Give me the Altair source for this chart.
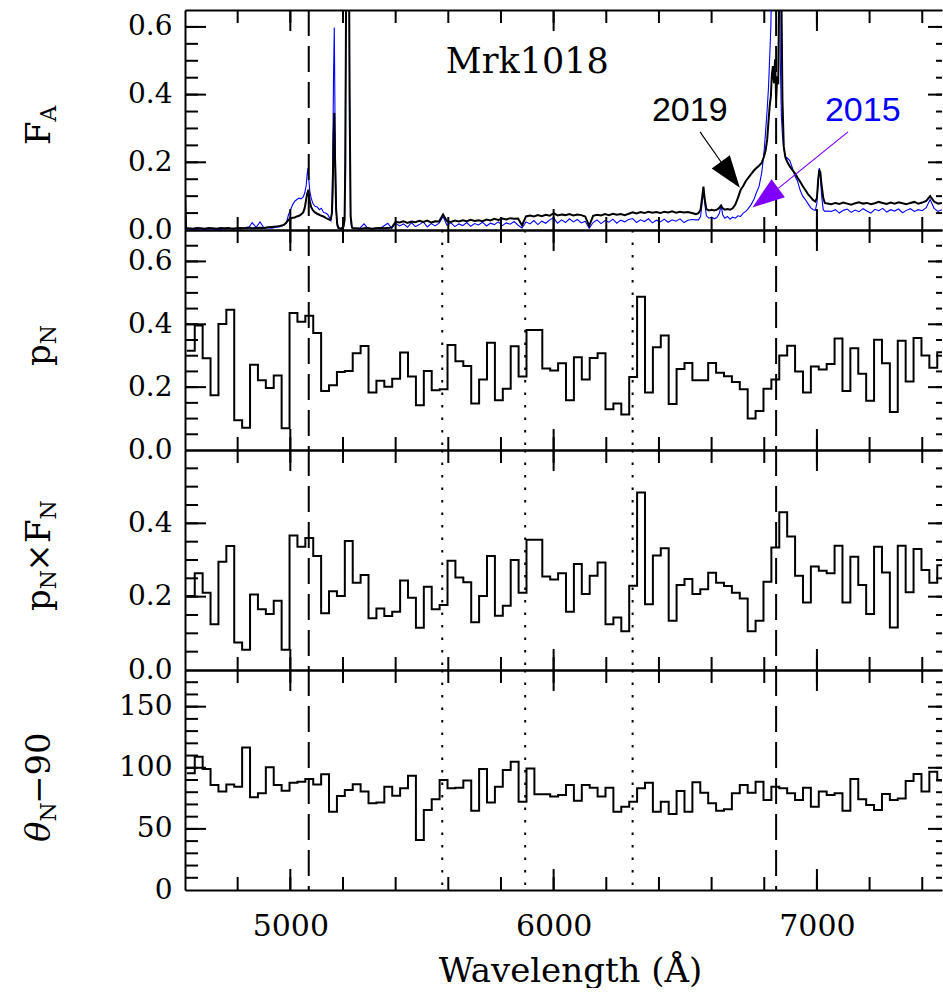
import altair as alt
import pandas as pd

# ---------------------------------------------------------------------------
# Panel 1: total flux spectra of Mrk 1018 at two epochs
# ---------------------------------------------------------------------------
wave = [
    4600, 4604, 4615, 4630, 4645, 4660, 4675, 4690, 4705, 4720, 4735, 4750, 4765, 4780,
    4795, 4810, 4825, 4840, 4855, 4870, 4885, 4900, 4915, 4930, 4945, 4960, 4975,
    4985, 4993, 5001, 5009, 5017, 5025, 5033, 5041, 5049, 5055, 5060, 5064, 5067, 5070,
    5074, 5079, 5086, 5094, 5102, 5110, 5118, 5126, 5134, 5142, 5150,
    5154, 5158, 5161, 5164, 5167, 5170, 5174, 5178, 5183, 5190, 5197, 5202, 5206, 5209,
    5213, 5217, 5221, 5225, 5229, 5234, 5240,
    5250, 5265, 5280, 5295, 5310, 5325, 5340, 5355, 5370, 5385,
    5400, 5415, 5430, 5445, 5460, 5475, 5490, 5505, 5520, 5535,
    5550, 5565, 5580, 5595, 5610, 5625, 5640, 5655, 5670, 5685,
    5700, 5715, 5730, 5745, 5760, 5775, 5790, 5805, 5820, 5835,
    5850, 5865, 5880, 5895, 5910, 5925, 5940, 5955, 5970, 5985,
    6000, 6015, 6030, 6045, 6060, 6075, 6090, 6105, 6120, 6135,
    6150, 6165, 6180, 6195, 6210, 6225, 6240, 6255, 6270, 6285,
    6300, 6315, 6330, 6345, 6360, 6375, 6390, 6405, 6420, 6435,
    6450, 6465, 6480, 6495, 6510, 6525, 6540,
    6550, 6558, 6564, 6569, 6574, 6580, 6590, 6600, 6610, 6620,
    6630, 6636, 6642, 6650, 6660, 6670, 6680, 6690, 6700, 6710,
    6720, 6730, 6740, 6750, 6760, 6770, 6780, 6790, 6798, 6805,
    6811, 6816, 6821, 6825, 6829, 6833, 6837, 6841, 6845, 6849,
    6853, 6857, 6861, 6865, 6869, 6874, 6880, 6888, 6897, 6906,
    6916, 6926, 6936, 6946, 6956, 6966, 6976, 6986, 6994, 7000,
    7005, 7009, 7013, 7018, 7024, 7030, 7040,
    7055, 7070, 7085, 7100, 7115, 7130, 7145, 7160, 7175, 7190,
    7205, 7220, 7235, 7250, 7265, 7280, 7295, 7310, 7325, 7340,
    7355, 7370, 7385, 7400, 7415, 7430, 7445, 7460, 7475,
]

flux_2019 = [
    0.115, 0.006, 0.005, 0.004, 0.006, 0.005, 0.004, 0.006, 0.005, 0.004, 0.006, 0.005, 0.006, 0.004,
    0.005, 0.006, 0.005, 0.007, 0.005, 0.006, 0.007, 0.006, 0.008, 0.009, 0.010, 0.012, 0.015,
    0.022, 0.030, 0.034, 0.036, 0.037, 0.040, 0.042, 0.046, 0.052, 0.066, 0.090, 0.108, 0.114, 0.105,
    0.085, 0.068, 0.058, 0.052, 0.048, 0.045, 0.042, 0.040, 0.036, 0.033, 0.030,
    0.032, 0.050, 0.120, 0.260, 0.346, 0.200, 0.060, 0.018, 0.006, 0.004, 0.006, 0.010, 0.030, 0.200,
    0.900, 1.500, 1.200, 0.400, 0.040, 0.008, 0.005,
    0.005, 0.004, 0.005, 0.006, 0.004, 0.005, 0.006, 0.005, 0.006, 0.007,
    0.024, 0.022, 0.026, 0.021, 0.025, 0.023, 0.027, 0.024, 0.028, 0.022,
    0.026, 0.025, 0.046, 0.026, 0.024, 0.028, 0.025, 0.029, 0.026, 0.030,
    0.027, 0.029, 0.026, 0.031, 0.028, 0.033, 0.030, 0.034, 0.031, 0.035,
    0.033, 0.034, 0.014, 0.040, 0.043, 0.040, 0.044, 0.041, 0.045, 0.042,
    0.050, 0.043, 0.046, 0.044, 0.047, 0.043, 0.046, 0.044, 0.040, 0.012,
    0.042, 0.045, 0.043, 0.047, 0.044, 0.048, 0.045, 0.047, 0.044, 0.048,
    0.052, 0.049, 0.053, 0.050, 0.054, 0.051, 0.053, 0.050, 0.054, 0.052,
    0.055, 0.051, 0.054, 0.052, 0.053, 0.050, 0.047,
    0.050, 0.060, 0.095, 0.128, 0.090, 0.062, 0.058, 0.060, 0.058, 0.060,
    0.066, 0.072, 0.064, 0.060, 0.062, 0.060, 0.064, 0.075, 0.095, 0.118,
    0.130, 0.145, 0.155, 0.165, 0.175, 0.183, 0.190, 0.198, 0.215, 0.235,
    0.267, 0.320, 0.370, 0.395, 0.460, 0.484, 0.434, 0.504, 0.385, 0.454,
    0.430, 0.750, 0.950, 0.700, 0.385, 0.247, 0.215, 0.200, 0.188, 0.178,
    0.168, 0.155, 0.143, 0.130, 0.118, 0.106, 0.097, 0.088, 0.084, 0.095,
    0.150, 0.178, 0.170, 0.130, 0.095, 0.080, 0.078,
    0.076, 0.080, 0.077, 0.081, 0.078, 0.075, 0.079, 0.082, 0.078, 0.080,
    0.076, 0.079, 0.083, 0.080, 0.077, 0.081, 0.078, 0.082, 0.079, 0.076,
    0.080, 0.083, 0.078, 0.081, 0.086, 0.100, 0.084, 0.078, 0.080,
]

flux_2015 = [
    0.004, 0.003, 0.004, 0.002, 0.003, 0.004, 0.002, 0.003, 0.004, 0.003, 0.002, 0.004, 0.003, 0.005,
    0.003, 0.004, 0.006, 0.004, 0.022, 0.008, 0.024, 0.006, 0.007, 0.005, 0.008, 0.010, 0.014,
    0.020, 0.045, 0.060, 0.075, 0.085, 0.090, 0.094, 0.092, 0.098, 0.110, 0.130, 0.165, 0.183, 0.150,
    0.115, 0.095, 0.078, 0.070, 0.068, 0.060, 0.064, 0.052, 0.050, 0.046, 0.035,
    0.028, 0.060, 0.200, 0.450, 0.598, 0.300, 0.060, 0.012, 0.004, 0.003, 0.004, 0.008, 0.030, 0.300,
    1.200, 1.800, 1.400, 0.450, 0.030, 0.006, 0.004,
    0.004, 0.006, 0.018, 0.004, 0.003, 0.006, 0.004, 0.012, 0.020, 0.005,
    0.020, 0.012, 0.018, 0.008, 0.022, 0.010, 0.016, 0.024, 0.009, 0.019,
    0.012, 0.020, 0.040, 0.014, 0.021, 0.010, 0.018, 0.013, 0.022, 0.011,
    0.019, 0.015, 0.023, 0.012, 0.020, 0.016, 0.024, 0.013, 0.021, 0.017,
    0.025, 0.014, 0.006, 0.024, 0.018, 0.028, 0.016, 0.026, 0.020, 0.030,
    0.036, 0.020, 0.030, 0.022, 0.033, 0.024, 0.031, 0.021, 0.026, 0.005,
    0.022, 0.030, 0.019, 0.028, 0.023, 0.032, 0.020, 0.029, 0.024, 0.031,
    0.034, 0.022, 0.030, 0.025, 0.033, 0.021, 0.029, 0.024, 0.032, 0.023,
    0.030, 0.026, 0.033, 0.022, 0.029, 0.031, 0.030,
    0.030, 0.040, 0.080, 0.117, 0.080, 0.042, 0.035, 0.038, 0.033, 0.037,
    0.050, 0.074, 0.045, 0.035, 0.040, 0.032, 0.038, 0.035, 0.042, 0.040,
    0.050, 0.055, 0.064, 0.075, 0.089, 0.110, 0.128, 0.168, 0.220, 0.290,
    0.356, 0.420, 0.520, 0.600, 0.800, 1.000, 1.100, 1.000, 0.900, 0.950,
    1.000, 0.900, 0.500, 0.336, 0.280, 0.240, 0.217, 0.212, 0.205, 0.185,
    0.160, 0.145, 0.118, 0.100, 0.090, 0.078, 0.066, 0.060, 0.058, 0.080,
    0.150, 0.183, 0.160, 0.100, 0.060, 0.055, 0.056,
    0.055, 0.060, 0.050, 0.058, 0.062, 0.052, 0.059, 0.054, 0.063, 0.056,
    0.050, 0.061, 0.057, 0.064, 0.053, 0.060, 0.056, 0.062, 0.051, 0.058,
    0.063, 0.055, 0.060, 0.057, 0.066, 0.090, 0.064, 0.055, 0.060,
]

# ---------------------------------------------------------------------------
# Panels 2-4: binned polarization (30 A bins starting at 4607 A)
# ---------------------------------------------------------------------------
BIN_START = 4607
BIN_WIDTH = 30

p_n = [
    0.316, 0.396, 0.292, 0.174, 0.401, 0.446, 0.095, 0.071, 0.271, 0.222,
    0.197, 0.237, 0.069, 0.436, 0.408, 0.427, 0.372, 0.188, 0.206, 0.248,
    0.251, 0.308, 0.331, 0.183, 0.220, 0.201, 0.227, 0.310, 0.234, 0.142,
    0.251, 0.190, 0.193, 0.334, 0.282, 0.267, 0.148, 0.224, 0.341, 0.158,
    0.195, 0.330, 0.234, 0.382, 0.382, 0.259, 0.253, 0.276, 0.158, 0.295,
    0.224, 0.293, 0.308, 0.130, 0.148, 0.113, 0.232, 0.488, 0.183, 0.327,
    0.364, 0.146, 0.258, 0.277, 0.222, 0.222, 0.277, 0.246, 0.235, 0.216,
    0.193, 0.100, 0.124, 0.195, 0.224, 0.301, 0.332, 0.250, 0.183, 0.266,
    0.256, 0.274, 0.355, 0.188, 0.324, 0.243, 0.157, 0.351, 0.276, 0.121,
    0.348, 0.218, 0.356, 0.301, 0.262, 0.311,
]

pf_n = [
    0.202, 0.264, 0.211, 0.125, 0.295, 0.338, 0.075, 0.055, 0.206, 0.166,
    0.153, 0.189, 0.055, 0.367, 0.336, 0.360, 0.311, 0.155, 0.215, 0.202,
    0.352, 0.238, 0.259, 0.141, 0.168, 0.147, 0.159, 0.244, 0.197, 0.115,
    0.227, 0.166, 0.177, 0.298, 0.252, 0.239, 0.130, 0.202, 0.311, 0.148,
    0.175, 0.300, 0.211, 0.355, 0.355, 0.255, 0.247, 0.264, 0.159, 0.289,
    0.207, 0.257, 0.293, 0.125, 0.143, 0.106, 0.230, 0.484, 0.179, 0.312,
    0.332, 0.134, 0.232, 0.248, 0.207, 0.220, 0.265, 0.238, 0.229, 0.211,
    0.195, 0.106, 0.134, 0.241, 0.334, 0.430, 0.364, 0.257, 0.184, 0.282,
    0.271, 0.264, 0.339, 0.184, 0.309, 0.232, 0.153, 0.336, 0.266, 0.116,
    0.339, 0.212, 0.330, 0.273, 0.238, 0.286,
]

theta_n = [
    95.5, 109.1, 99.0, 85.9, 80.5, 86.4, 84.5, 116.5, 75.8, 79.1,
    100.4, 85.9, 81.3, 87.8, 88.6, 90.8, 86.4, 94.7, 64.1, 76.9,
    81.8, 86.6, 80.5, 70.9, 71.5, 84.5, 77.2, 83.2, 93.5, 40.9,
    65.5, 74.2, 90.0, 83.2, 83.7, 89.5, 64.9, 99.0, 71.5, 84.5,
    98.2, 105.0, 72.3, 99.5, 78.3, 78.3, 76.4, 77.7, 85.9, 73.1,
    85.9, 83.7, 76.4, 83.7, 64.1, 68.2, 72.3, 83.2, 87.8, 64.1,
    72.3, 62.2, 81.0, 64.1, 88.1, 79.6, 70.9, 64.9, 66.0, 79.1,
    85.9, 79.6, 88.6, 73.6, 84.5, 83.2, 79.1, 73.6, 83.7, 68.2,
    80.5, 77.7, 79.1, 64.9, 90.8, 74.2, 69.5, 65.5, 78.5, 73.6,
    74.9, 89.2, 94.9, 80.5, 96.8, 89.5,
]

# Reference lines
broad_lines = [5070, 6845]          # dashed: H-beta, H-alpha
sky_lines = [5577, 5892, 6300]      # dotted

# Axis ticks
x_ticks = [4800, 5000, 5200, 5400, 5600, 5800, 6000, 6200, 6400, 6600, 6800, 7000, 7200, 7400]
x_labels = [5000, 6000, 7000]
fa_ticks = [0.05, 0.1, 0.15, 0.2, 0.25, 0.3, 0.35, 0.4, 0.45, 0.5, 0.55, 0.6]
pn_ticks = [0.05, 0.1, 0.15, 0.2, 0.25, 0.3, 0.35, 0.4, 0.45, 0.5, 0.55, 0.6, 0.65]
pf_ticks = [0.05, 0.1, 0.15, 0.2, 0.25, 0.3, 0.35, 0.4, 0.45, 0.5, 0.55]
th_ticks = [10, 20, 30, 40, 50, 60, 70, 80, 90, 100, 110, 120, 130, 140, 150, 160, 170]
frac_major = [0.2, 0.4, 0.6]
th_major = [50, 100, 150]

# Annotation arrows (data coordinates)
arrow_color = ["black", "#7f00ff"]
arrow_w0 = [6556, 7118]
arrow_f0 = [0.290, 0.290]
arrow_w1 = [6636, 6853]
arrow_f1 = [0.201, 0.123]
head_w = [6671, 6804]
head_f = [0.163, 0.095]
head_angle = [143.5, 233.5]

# ---------------------------------------------------------------------------
W, H = 757, 220
X_DOMAIN = [4600, 7475]
SERIF = "DejaVu Serif"
LEFT = 185          # page x of the plot's left edge
TOP = 10            # page y of the first panel's top edge

one = pd.DataFrame({"k": [0]})


def xscale():
    return alt.Scale(domain=X_DOMAIN, nice=False, zero=False)


def frame_axis(orient, offset):
    return alt.Axis(orient=orient, offset=offset, domain=True, ticks=False, labels=False,
                    title=None, grid=False, domainColor="black", domainWidth=2)


def frame_layers(df, yfield, yscale):
    """Invisible copies of a series whose axis domains draw the panel frame."""
    out = []
    for xo, yo in [("top", "right"), ("bottom", "left")]:
        ya = frame_axis(yo, -W) if yo == "right" else None
        out.append(
            alt.Chart(df).mark_line(opacity=0, clip=True).encode(
                x=alt.X("wave:Q", scale=xscale(), axis=frame_axis(xo, -H)),
                y=alt.Y(f"{yfield}:Q", scale=yscale, axis=ya),
            )
        )
    return out


def tick_layers(yscale, yticks, ymajor):
    """Inward-pointing ticks on all four edges, placed through the scales."""
    out = []
    for vals, ln in [(x_ticks, 13), (x_labels, 21)]:
        df = pd.DataFrame({"wave": vals})
        for y0, y1 in [(H, H - ln), (0, ln)]:
            out.append(
                alt.Chart(df).mark_rule(color="black", strokeWidth=2).encode(
                    x=alt.X("wave:Q", scale=xscale(), axis=None),
                    y=alt.value(y0), y2=alt.value(y1),
                )
            )
    for vals, ln_left, ln_right in [(yticks, 13, 6), (ymajor, 21, 14)]:
        df = pd.DataFrame({"v": vals})
        for x0, x1 in [(0, ln_left), (W, W - ln_right)]:
            out.append(
                alt.Chart(df).mark_rule(color="black", strokeWidth=2).encode(
                    y=alt.Y("v:Q", scale=yscale, axis=None),
                    x=alt.value(x0), x2=alt.value(x1),
                )
            )
    return out


def y_label_axis(values, fmt):
    return alt.Axis(orient="left", values=values, format=fmt, ticks=False, tickSize=0,
                    domain=False, grid=False, title=None, labelFont=SERIF,
                    labelFontSize=28, labelPadding=13, labelColor="black",
                    labelFlush=False, labelOverlap=False)


def x_label_axis():
    return alt.Axis(orient="bottom", values=x_labels, format="d", ticks=False, tickSize=0,
                    domain=False, grid=False, labelFont=SERIF, labelFontSize=30,
                    labelPadding=45, labelBaseline="alphabetic", labelColor="black",
                    labelFlush=False, labelOverlap=False,
                    title="Wavelength (Å)", titleFont=SERIF, titleFontSize=34,
                    titleFontWeight="normal", titleColor="black", titleX=385,
                    titleY=91, titleAlign="center", titleBaseline="alphabetic")


# Approximate glyph advances (em) used to string title pieces together
ADV = {"F": 0.69, "A": 0.72, "p": 0.64, "N": 0.80, "×": 0.84, "θ": 0.60, "−90": 2.11}


def y_title(pieces, x_base, y_start, panel_top):
    """Rotated axis title assembled from main-size and subscript pieces."""
    out = []
    y = y_start
    for text, size, shift, italic in pieces:
        out.append(
            alt.Chart(one).mark_text(
                text=text, angle=270, align="left", baseline="alphabetic",
                font=SERIF, fontSize=size, fontStyle="italic" if italic else "normal",
                color="black",
            ).encode(x=alt.value(x_base + shift - LEFT), y=alt.value(y - panel_top))
        )
        y -= ADV[text] * size
    return out


def rules(values, dash):
    return alt.Chart(pd.DataFrame({"wave": values})).mark_rule(
        color="black", strokeWidth=2, strokeDash=dash
    ).encode(x=alt.X("wave:Q", scale=xscale(), axis=None))


def step_frame(values):
    edges = [BIN_START + BIN_WIDTH * i for i in range(len(values) + 1)]
    return pd.DataFrame({"wave": edges, "value": list(values) + [values[-1]]})


def panel(layers):
    return (alt.layer(*layers)
            .resolve_axis(x="independent", y="independent")
            .properties(width=W, height=H))


MAIN, SUB = 34, 22
DASH = [26, 10]
DOT = [2.5, 10]

# ---------------- panel 1 ----------------
spec = pd.DataFrame({"wave": wave, "f2019": flux_2019, "f2015": flux_2015})
fa_scale = alt.Scale(domain=[0, 0.65], nice=False, zero=False)

blue_line = alt.Chart(spec).mark_line(color="#0000ff", strokeWidth=1.1, clip=True).encode(
    x=alt.X("wave:Q", scale=xscale(), axis=None),
    y=alt.Y("f2015:Q", scale=fa_scale, axis=None),
)
black_line = alt.Chart(spec).mark_line(color="black", strokeWidth=2, clip=True).encode(
    x=alt.X("wave:Q", scale=xscale(), axis=None),
    y=alt.Y("f2019:Q", scale=fa_scale, axis=y_label_axis([0, 0.2, 0.4, 0.6], ".1f")),
)


def note(text, w, f, font, size, color):
    return alt.Chart(pd.DataFrame({"wave": [w], "flux": [f]})).mark_text(
        text=text, font=font, fontSize=size, color=color, align="center",
        baseline="alphabetic",
    ).encode(x=alt.X("wave:Q", scale=xscale(), axis=None),
             y=alt.Y("flux:Q", scale=fa_scale, axis=None))


arrows = pd.DataFrame({"w0": arrow_w0, "f0": arrow_f0, "w1": arrow_w1, "f1": arrow_f1,
                       "c": arrow_color})
shafts = alt.Chart(arrows).mark_rule(strokeWidth=1.2).encode(
    x=alt.X("w0:Q", scale=xscale(), axis=None), x2="w1:Q",
    y=alt.Y("f0:Q", scale=fa_scale, axis=None), y2="f1:Q",
    color=alt.Color("c:N", scale=None),
)
heads_df = pd.DataFrame({"w": head_w, "f": head_f, "a": head_angle, "c": arrow_color})
heads = alt.Chart(heads_df).mark_point(
    shape="M0,-1L0.7,1L-0.7,1Z", filled=True, size=1030, opacity=1, strokeWidth=0
).encode(
    x=alt.X("w:Q", scale=xscale(), axis=None),
    y=alt.Y("f:Q", scale=fa_scale, axis=None),
    angle=alt.Angle("a:Q", scale=None),
    color=alt.Color("c:N", scale=None),
)

anchor = alt.Chart(one).mark_rule(color="white", strokeWidth=1).encode(
    x=alt.value(-LEFT + 0.5), y=alt.value(-TOP + 0.5), y2=alt.value(-TOP + 1)
)

panel1 = panel(
    [blue_line, black_line, rules(broad_lines, DASH),
     note("Mrk1018", 5900, 0.464, SERIF, 35, "black"),
     note("2019", 6517, 0.321, "Liberation Sans", 34, "black"),
     note("2015", 7174, 0.321, "Liberation Sans", 34, "#0000ff"),
     shafts, heads, anchor]
    + frame_layers(spec, "f2019", fa_scale)
    + tick_layers(fa_scale, fa_ticks, frac_major)
    + y_title([("F", MAIN, 0, False), ("A", SUB, 6, False)], 50, 145, TOP)
)


# ---------------- panels 2-4 ----------------
def step_panel(values, ydomain, label_vals, fmt, yticks, ymajor, title_pieces, y_start,
               panel_top, bottom=False):
    df = step_frame(values)
    ys = alt.Scale(domain=ydomain, nice=False, zero=False)
    line = alt.Chart(df).mark_line(color="black", strokeWidth=2, interpolate="step-after",
                                   clip=True).encode(
        x=alt.X("wave:Q", scale=xscale(), axis=x_label_axis() if bottom else None),
        y=alt.Y("value:Q", scale=ys, axis=y_label_axis(label_vals, fmt)),
    )
    return panel(
        [line, rules(broad_lines, DASH), rules(sky_lines, DOT)]
        + frame_layers(df, "value", ys)
        + tick_layers(ys, yticks, ymajor)
        + y_title(title_pieces, 50, y_start, panel_top)
    )


panel2 = step_panel(p_n, [0, 0.7], [0, 0.2, 0.4, 0.6], ".1f", pn_ticks, frac_major,
                    [("p", MAIN, 0, False), ("N", SUB, 6, False)], 366, TOP + H)
panel3 = step_panel(pf_n, [0, 0.6], [0, 0.2, 0.4], ".1f", pf_ticks, [0.2, 0.4],
                    [("p", MAIN, 0, False), ("N", SUB, 6, False), ("×", MAIN, 0, False),
                     ("F", MAIN, 0, False), ("N", SUB, 6, False)], 611, TOP + 2 * H)
panel4 = step_panel(theta_n, [0, 180], [0, 50, 100, 150], "d", th_ticks, th_major,
                    [("θ", MAIN, 0, True), ("N", SUB, 6, False), ("−90", MAIN, 0, False)],
                    842, TOP + 3 * H, bottom=True)

chart = (
    alt.vconcat(panel1, panel2, panel3, panel4, spacing=0, bounds="flush")
    .properties(padding={"left": 0, "top": 0, "right": 0, "bottom": 0}, background="white")
    .configure_view(stroke=None)
    .configure_axis(labelFont=SERIF, titleFont=SERIF)
)

chart.save("out.html", embed_options={"renderer": "svg", "actions": False})
